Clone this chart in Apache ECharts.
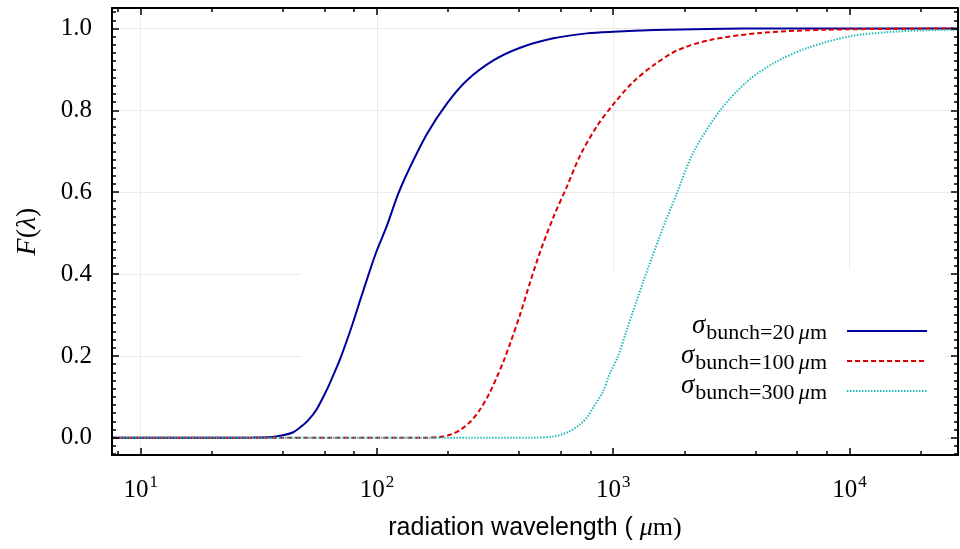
<!DOCTYPE html>
<html><head><meta charset="utf-8">
<script src="https://cdn.jsdelivr.net/npm/echarts@6/dist/echarts.min.js"></script>
<style>html,body{margin:0;padding:0;background:#fff}#c{width:960px;height:549px}</style>
</head><body><div id="c"></div>
<script>
// ---- data ----
const sigmas = [20, 100, 300];
const blueX = [7.5, 20, 30, 36, 40, 44, 47.2, 51, 55.6, 61.3, 65, 69.8, 78.2, 84.8, 93.5, 99.8, 110, 123, 138, 163, 198, 240, 311, 404, 558, 773, 1000, 1500, 2500, 5000, 28800];
const blueY = [0, 0, 0.0005, 0.002, 0.006, 0.013, 0.025, 0.042, 0.07, 0.117, 0.15, 0.192, 0.272, 0.335, 0.41, 0.457, 0.517, 0.596, 0.661, 0.743, 0.817, 0.873, 0.922, 0.953, 0.976, 0.988, 0.992, 0.996, 0.999, 1, 1];
const redX = [7.5, 150, 185, 205, 225, 250, 273, 300, 322, 345, 366, 404, 445, 491, 559, 636, 725, 853, 1002, 1218, 1480, 1858, 2571, 4188, 8017, 28800];
const redY = [0, 0, 0.002, 0.008, 0.019, 0.041, 0.069, 0.11, 0.149, 0.19, 0.23, 0.302, 0.38, 0.455, 0.54, 0.613, 0.69, 0.761, 0.815, 0.87, 0.91, 0.946, 0.972, 0.989, 0.997, 1];
const cyanX = [7.5, 450, 560, 596, 650, 724, 780, 825, 900, 970, 1050, 1142, 1343, 1581, 1858, 2187, 2837, 3680, 4768, 6603, 10070, 14400, 19900, 28800];
const cyanY = [0, 0, 0.003, 0.007, 0.015, 0.033, 0.052, 0.075, 0.11, 0.158, 0.2, 0.264, 0.383, 0.495, 0.597, 0.698, 0.80, 0.87, 0.915, 0.952, 0.981, 0.991, 0.995, 0.997];

const xMajorTicks = [10, 100, 1000, 10000];
const xMinorTicks = [8, 20, 40, 60, 80, 200, 400, 600, 800, 2000, 4000, 6000, 8000, 20000];
const yMajorTicks = [0, 0.2, 0.4, 0.6, 0.8, 1.0];
const yMinorTicks = [];
for (let i = -2; i <= 52; i++) { if (i % 10 !== 0) yMinorTicks.push(+(i * 0.02).toFixed(2)); }

const XMIN = 7.56, XMAX = 28800, YMIN = -0.042, YMAX = 1.05;
const colors = ['#00009c', '#dc0000', '#17baba'];
const dashes = ['solid', [5, 3], [1.4, 1.6]];
const names = sigmas.map(s => 'σ_bunch=' + s + ' μm');

const SERIF = '"Liberation Serif", "DejaVu Serif", serif';
const SANS = '"Liberation Sans", "DejaVu Sans", sans-serif';

function pairs(xs, ys) { return xs.map((x, i) => [x, ys[i]]); }
const seriesData = [pairs(blueX, blueY), pairs(redX, redY), pairs(cyanX, cyanY)];

function xAx(extra) {
  return Object.assign({
    type: 'log', logBase: 10, min: XMIN, max: XMAX, gridIndex: 0,
    axisLine: { show: false, onZero: false }, axisLabel: { show: false }, splitLine: { show: false },
    axisTick: { show: false }
  }, extra);
}
function yAx(extra) {
  return Object.assign({
    type: 'value', min: YMIN, max: YMAX, gridIndex: 0,
    axisLine: { show: false, onZero: false }, axisLabel: { show: false }, splitLine: { show: false },
    axisTick: { show: false }
  }, extra);
}
const lineSt = { color: '#000', width: 2 };
const tickSt = { color: '#000', width: 1.5 };

const option = {
  animation: false,
  backgroundColor: '#fff',
  grid: { left: 112, right: 2, top: 8, bottom: 94, containLabel: false },
  xAxis: [
    xAx({ z: 0, axisTick: { show: false, customValues: xMajorTicks }, splitLine: { show: true, lineStyle: { color: '#ebebeb', width: 1 } } }),
    xAx({ z: 3, position: 'bottom', axisLine: { show: true, onZero: false, lineStyle: lineSt },
      axisTick: { show: true, inside: true, length: 7, customValues: xMajorTicks, lineStyle: tickSt },
      axisLabel: { show: true, customValues: xMajorTicks, margin: 18,
        formatter: v => '{b|10}{s|' + Math.round(Math.log10(v)) + '}',
        rich: { b: { fontFamily: SERIF, fontSize: 25, color: '#000', verticalAlign: 'bottom', lineHeight: 30 },
                s: { fontFamily: SERIF, fontSize: 17, color: '#000', verticalAlign: 'bottom', lineHeight: 30, padding: [0, 0, 12, 1] } } },
      name: '{t|radiation wavelength ( }{mu|μ}{m|m)}', nameLocation: 'middle', nameGap: 60,
      nameTextStyle: { rich: {
        t: { fontFamily: SANS, fontSize: 25, color: '#000' },
        mu: { fontFamily: SERIF, fontStyle: 'italic', fontSize: 26, color: '#000' },
        m: { fontFamily: SERIF, fontSize: 26, color: '#000' } } } }),
    xAx({ z: 3, position: 'bottom', axisTick: { show: true, inside: true, length: 4, customValues: xMinorTicks, lineStyle: tickSt } }),
    xAx({ z: 3, position: 'top', axisLine: { show: true, onZero: false, lineStyle: lineSt },
      axisTick: { show: true, inside: true, length: 7, customValues: xMajorTicks, lineStyle: tickSt } }),
    xAx({ z: 3, position: 'top', axisTick: { show: true, inside: true, length: 4, customValues: xMinorTicks, lineStyle: tickSt } })
  ],
  yAxis: [
    yAx({ z: 0, axisTick: { show: false, customValues: yMajorTicks }, splitLine: { show: true, lineStyle: { color: '#ebebeb', width: 1 } } }),
    yAx({ z: 3, position: 'left', axisLine: { show: true, onZero: false, lineStyle: lineSt },
      axisTick: { show: true, inside: true, length: 7, customValues: yMajorTicks, lineStyle: tickSt },
      axisLabel: { show: true, customValues: yMajorTicks, margin: 20, fontFamily: SERIF, fontSize: 25, color: '#000',
        formatter: v => v.toFixed(1) },
      name: '{i|F}{r|(}{i|λ}{r|)}', nameLocation: 'middle', nameGap: 70,
      nameTextStyle: { rich: {
        i: { fontFamily: SERIF, fontStyle: 'italic', fontSize: 28, color: '#000' },
        r: { fontFamily: SERIF, fontSize: 28, color: '#000' } } } }),
    yAx({ z: 3, position: 'left', axisTick: { show: true, inside: true, length: 4, customValues: yMinorTicks, lineStyle: tickSt } }),
    yAx({ z: 3, position: 'right', axisLine: { show: true, onZero: false, lineStyle: lineSt },
      axisTick: { show: true, inside: true, length: 7, customValues: yMajorTicks, lineStyle: tickSt } }),
    yAx({ z: 3, position: 'right', axisTick: { show: true, inside: true, length: 4, customValues: yMinorTicks, lineStyle: tickSt } })
  ],
  legend: {
    orient: 'vertical', right: 15, top: 270, align: 'right',
    padding: [42, 17, 50, 380], backgroundColor: '#fff', z: 1,
    itemWidth: 80, itemHeight: 12, itemGap: -2,
    itemStyle: { opacity: 0, color: 'transparent', borderWidth: 0 },
    data: names,
    formatter: n => {
      const s = n.replace('σ_bunch=', '').replace(' μm', '');
      return '{g|σ}{b|bunch=' + s + '\u2009}{mu|μ}{b|m}';
    },
    textStyle: {
      padding: [0, 15, 0, 0], color: '#000', height: 26, lineHeight: 26,
      rich: {
        g: { fontFamily: SERIF, fontStyle: 'italic', fontSize: 27, color: '#000', verticalAlign: 'bottom', lineHeight: 21, padding: [0, 1, 5, 0] },
        b: { fontFamily: SERIF, fontSize: 22, color: '#000', verticalAlign: 'bottom', lineHeight: 26 },
        mu: { fontFamily: SERIF, fontStyle: 'italic', fontSize: 22, color: '#000', verticalAlign: 'bottom', lineHeight: 26 }
      }
    }
  },
  series: seriesData.map((d, i) => ({
    type: 'line', name: names[i], data: d, xAxisIndex: 0, yAxisIndex: 0,
    symbol: 'none', showSymbol: false, smooth: 0.3, z: 2,
    lineStyle: { color: colors[i], width: 2, type: dashes[i] },
    itemStyle: { color: colors[i] }
  }))
};
const chart = echarts.init(document.getElementById('c'), null, { renderer: 'canvas' });
chart.setOption(option);
</script></body></html>
